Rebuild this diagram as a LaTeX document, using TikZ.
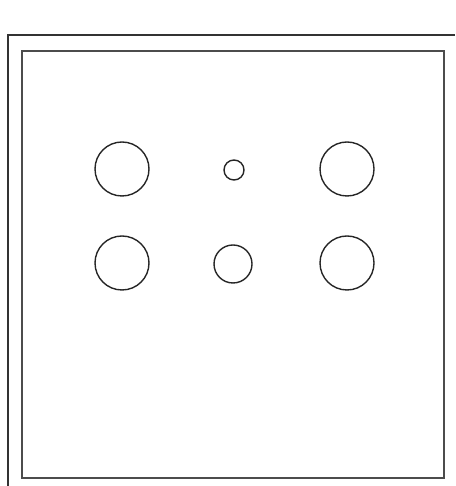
\documentclass[tikz,border=0pt]{standalone}
\usepackage{tikz}
\usetikzlibrary{positioning, calc}

\begin{document}
\begin{tikzpicture}[x=1pt, y=1pt, hole/.style={draw=black!85, line width=1.4pt}]
        \useasboundingbox (0, 0) rectangle (455, 486);
        % Outer Frame
        \draw[line width=2pt, black!80] (8, 0) -- (8, 451) -- (455, 451);
        % Plate
        \draw[line width=2pt, black!70] (22, 8) rectangle (444, 435);
        % Large Holes
        \foreach \x in {122, 347} {
            \foreach \y in {223, 317} { \draw[hole] (\x, \y) circle[radius=27]; }
        }
        % Small Hole
        \draw[hole] (234, 316) circle[radius=10];
        % Medium Hole
        \draw[hole] (233, 222) circle[radius=19];
    \end{tikzpicture}
\end{document}
